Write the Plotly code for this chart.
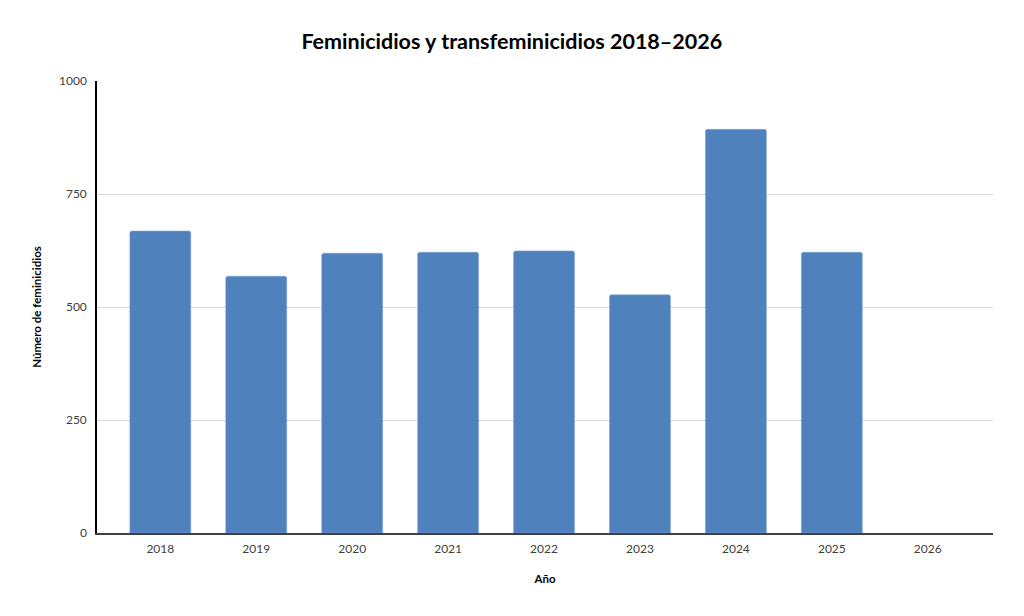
import plotly.graph_objects as go

# data (2026 has no value yet)
years = ['2018', '2019', '2020', '2021', '2022', '2023', '2024', '2025', '2026']
feminicidios = [668, 568, 619, 621, 624, 527, 893, 621, None]
y_ticks = [0, 250, 500, 750, 1000]

bar_color = '#4F81BD'
font_family = 'Lato, "Open Sans", sans-serif'

fig = go.Figure()
fig.add_trace(go.Bar(
    x=years,
    y=feminicidios,
    marker=dict(color=bar_color, line=dict(color='#7FA3D6', width=0.6)),
    width=0.635,
))

# the page puts the plot 8px right/down, so margins are shifted to compensate
fig.update_layout(
    width=1024,
    height=616,
    paper_bgcolor='white',
    plot_bgcolor='white',
    margin=dict(l=89, r=39, t=73, b=91),
    barcornerradius=2,
    showlegend=False,
    font=dict(family=font_family, color='#404040', size=12),
    title=dict(
        text='<b>Feminicidios y transfeminicidios 2018–2026</b>',
        x=0.492, xanchor='center', y=0.945, yanchor='middle',
        font=dict(family=font_family, size=21.5, color='black'),
    ),
)

fig.update_xaxes(
    type='category',
    range=[-0.66, 8.68],
    showline=True, linecolor='#404040', linewidth=1.5,
    showgrid=False,
    ticks='', ticklabelstandoff=4,
    tickfont=dict(size=12, color='#404040'),
    title=dict(text='<b>Año</b>', standoff=20, font=dict(size=11.5, color='black')),
)

fig.update_yaxes(
    range=[0, 1000],
    tickvals=y_ticks,
    showline=True, linecolor='black', linewidth=1.5,
    showgrid=True, gridcolor='#D9D9D9', gridwidth=1,
    zeroline=False,
    ticks='', ticklabelstandoff=6,
    tickfont=dict(size=12, color='#404040'),
    title=dict(text='<b>Número de feminicidios</b>', standoff=15, font=dict(size=11.5, color='black')),
)

fig.write_html('out.html')
